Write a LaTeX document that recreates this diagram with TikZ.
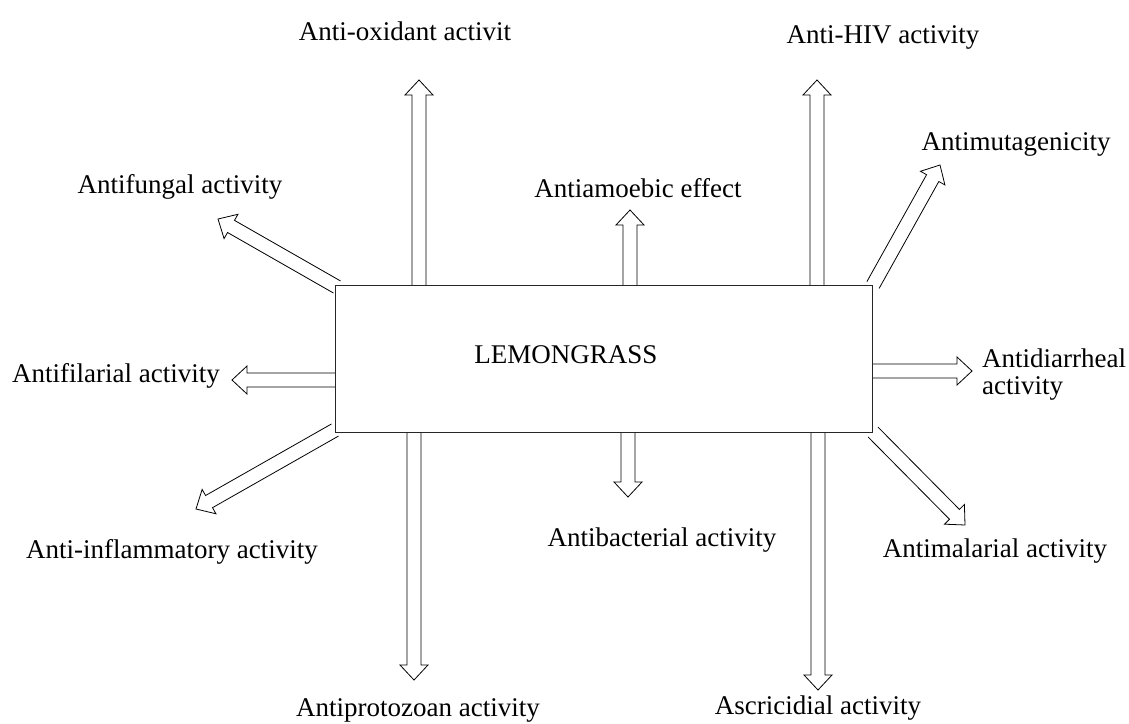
\documentclass[tikz,border=0pt]{standalone}
\usepackage{fontspec}
\setmainfont{Liberation Serif}
\usetikzlibrary{calc}
\tikzset{
  barr/.style={draw=black, line width=0.8pt, fill=white, line join=miter},
  boxst/.style={draw=black!85, line width=1.2pt, inner sep=0pt},
  lbl/.style={font=\fontsize{27}{27}\selectfont, inner sep=0pt, anchor=base},
}
\newcommand\blockarrow[2]{%
  \coordinate (ba-base) at ($(#2)!15pt!(#1)$);
  \draw[barr] ($(#1)!7pt!90:(#2)$) -- ($(ba-base)!7pt!90:(#2)$) -- ($(ba-base)!14pt!90:(#2)$)
     -- (#2) -- ($(ba-base)!14pt!-90:(#2)$) -- ($(ba-base)!7pt!-90:(#2)$) -- ($(#1)!7pt!-90:(#2)$);
}
\begin{document}
\begin{tikzpicture}[x=1pt,y=-1pt]
\useasboundingbox[fill=white] (0,0) rectangle (1129,723);
% labels
\node[lbl] (lox) at (405,40) {Anti-oxidant activit};
\node[lbl] (lhiv) at (883,43) {Anti-HIV activity};
\node[lbl] (lfun) at (180,193) {Antifungal activity};
\node[lbl] (lamo) at (638,197) {Antiamoebic effect};
\node[lbl] (lmut) at (1016,150) {Antimutagenicity};
\node[lbl] (lfil) at (116,382) {Antifilarial activity};
\node[lbl, anchor=base west] (ldia) at (982,367) {Antidiarrheal};
\node[lbl, anchor=base west] (ldib) at (982,394) {activity};
\node[lbl] (linf) at (172,558) {Anti-inflammatory activity};
\node[lbl] (lbac) at (662,546) {Antibacterial activity};
\node[lbl] (lmal) at (995,557) {Antimalarial activity};
\node[lbl] (lpro) at (418,716) {Antiprotozoan activity};
\node[lbl] (lasc) at (818,714) {Ascricidial activity};
% arrow tails (on the box) and tips
\coordinate (tox) at (419,285);  \coordinate (hox) at (419,80);
\coordinate (thiv) at (817,285); \coordinate (hhiv) at (817,80);
\coordinate (tamo) at (630,285); \coordinate (hamo) at (630,210);
\coordinate (tmut) at (873,285); \coordinate (hmut) at (940,165);
\coordinate (tfun) at (337,287); \coordinate (hfun) at (218,219);
\coordinate (tfil) at (335,380); \coordinate (hfil) at (232,380);
\coordinate (tdia) at (872,371); \coordinate (hdia) at (972,371);
\coordinate (tinf) at (335,430); \coordinate (hinf) at (196,509);
\coordinate (tmal) at (873,432); \coordinate (hmal) at (965,525);
\coordinate (tbac) at (628,432); \coordinate (hbac) at (628,497);
\coordinate (tpro) at (414,432); \coordinate (hpro) at (414,680);
\coordinate (tasc) at (818,432); \coordinate (hasc) at (818,690);
\blockarrow{tox}{hox}
\blockarrow{thiv}{hhiv}
\blockarrow{tamo}{hamo}
\blockarrow{tmut}{hmut}
\blockarrow{tfun}{hfun}
\blockarrow{tfil}{hfil}
\blockarrow{tdia}{hdia}
\blockarrow{tinf}{hinf}
\blockarrow{tmal}{hmal}
\blockarrow{tbac}{hbac}
\blockarrow{tpro}{hpro}
\blockarrow{tasc}{hasc}
% central box
\node[boxst, minimum width=537pt, minimum height=147pt, anchor=north west] (box) at (335,285) {};
\node[lbl] (lem) at (566,363) {LEMONGRASS};
\end{tikzpicture}
\end{document}
